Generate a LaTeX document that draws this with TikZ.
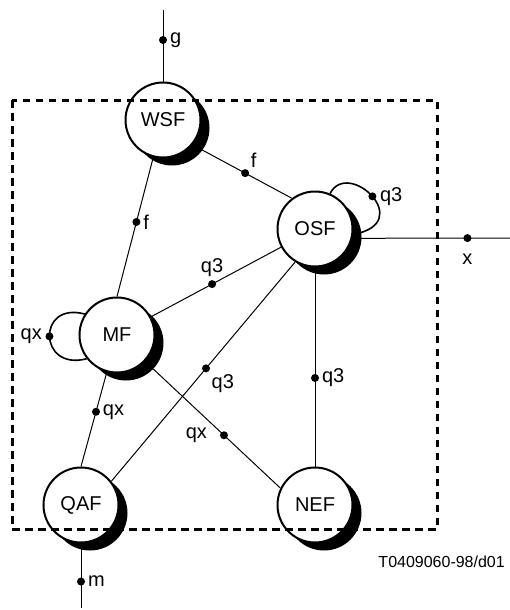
\documentclass[tikz,border=0pt]{standalone}
\usepackage{fontspec}
\setmainfont{Liberation Sans}
\usetikzlibrary{shadows}

\begin{document}
\begin{tikzpicture}[x=1pt, y=-1pt,
	fe/.style={circle, draw, line width=2pt, fill=white, minimum size=75pt, inner sep=0pt,
		font=\fontsize{20}{24}\selectfont,
		drop shadow={shadow xshift=9pt, shadow yshift=-8pt, fill=black, opacity=1}},
	dot/.style={circle, fill, inner sep=0pt, minimum size=8pt, label distance=3pt},
	every label/.style={font=\fontsize{20}{24}\selectfont, inner sep=2pt},
	every edge/.style={draw, line width=1pt},
	lp/.style={line width=1.6pt}]
	\useasboundingbox (0,0) rectangle (510,610);
	\node[fe] (wsf) at (163,120) {WSF};
	\node[fe] (osf) at (315,229) {OSF};
	\node[fe] (mf) at (117,335) {MF};
	\node[fe] (qaf) at (81,505) {QAF};
	\node[fe] (nef) at (315,505) {NEF};
	\coordinate (gend) at (163,10);
	\coordinate (mend) at (81,608);
	\coordinate (xend) at (510,238);
	\path (gend) edge node[dot, pos=.42, label=right:g] {} (wsf);
	\path (qaf) edge node[dot, pos=.59, label=right:m] {} (mend);
	\path (osf.-14) edge node[dot, pos=.73, label={[label distance=9pt]below:x}] {} (xend);
	\path (wsf.-40) edge node[dot, pos=.53, label=above right:f] {} (osf.127);
	\path (wsf) edge node[dot, pos=.465, label=right:f] {} (mf.north);
	\path (mf) edge node[dot, pos=.47, label=above:q3] {} (osf);
	\path (mf) edge node[dot, pos=.42, label=right:qx] {} (qaf.north);
	\path (qaf.38) edge node[dot, pos=.515, label=below right:q3] {} (osf.239);
	\path (mf) edge node[dot, pos=.583, label={[label distance=10pt]left:qx}] {} (nef.154);
	\path (osf) edge node[dot, pos=.555, label=right:q3] {} (nef);
	\path (mf.147) edge[lp, out=165, in=195, distance=50pt] node[dot, label=left:qx] {} (mf.218);
	\path (osf.67) edge[lp, out=63, in=10, out distance=40pt, in distance=65pt] node[dot, label=right:q3] {} (osf.-8);
	\draw[line width=3pt, dash pattern=on 7.5pt off 5.5pt] (12,100) rectangle (437,529);
	\node[anchor=east, inner sep=0pt, font=\fontsize{16}{19}\selectfont] (fig) at (505,562) {T0409060-98/d01};
\end{tikzpicture}
\end{document}
